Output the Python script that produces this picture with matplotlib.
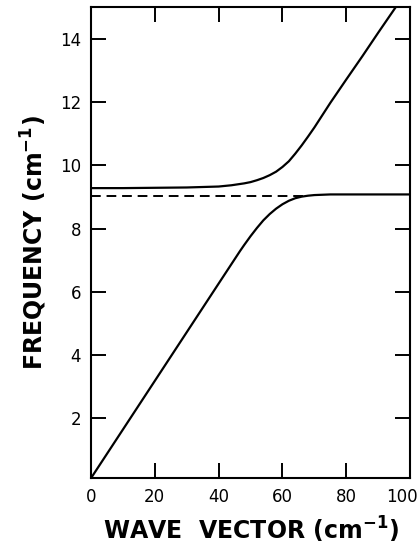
import matplotlib
matplotlib.use("Agg")
import matplotlib.pyplot as plt
import matplotlib.transforms as mtransforms

# Upper polariton branch (wave vector, frequency)
upper_k = [0, 10, 20, 30, 40, 44, 48, 50, 52, 54, 56, 58, 60, 62, 64, 66, 68, 70, 75, 80, 85, 90, 95.3]
upper_w = [9.28, 9.28, 9.29, 9.30, 9.33, 9.37, 9.43, 9.47, 9.53, 9.60, 9.69, 9.80, 9.95, 10.13, 10.37,
           10.63, 10.91, 11.2, 11.98, 12.72, 13.45, 14.2, 14.98]

# Lower polariton branch
lower_k = [0, 10, 20, 30, 40, 46.7, 48, 50, 52, 54, 56, 58, 60, 62, 64, 66, 68, 70, 75, 100]
lower_w = [0.1, 1.64, 3.18, 4.72, 6.26, 7.29, 7.48, 7.76, 8.02, 8.26, 8.46, 8.63, 8.77, 8.88, 8.96,
           9.01, 9.04, 9.06, 9.08, 9.08]

# Dashed reference level
dash_k = [0, 68]
dash_w = [9.02, 9.02]

xticks = [0, 20, 40, 60, 80, 100]
yticks = [2, 4, 6, 8, 10, 12, 14]

fig = plt.figure(figsize=(4.19, 5.45), dpi=100)
ax = fig.add_axes([0.217, 0.1224, 0.762, 0.8642])

ax.plot(upper_k, upper_w, color="black", lw=1.6, solid_joinstyle="round")
ax.plot(lower_k, lower_w, color="black", lw=1.6, solid_joinstyle="round")
ax.plot(dash_k, dash_w, color="black", lw=1.4, dashes=(5, 3))

ax.set_xlim(0, 100)
ax.set_ylim(0.1, 15)
ax.set_xticks(xticks)
ax.set_yticks(yticks)
ax.set_xticklabels([str(v) for v in xticks])
ax.set_yticklabels([str(v) for v in yticks])

ax.tick_params(direction="in", length=11, width=1.4, top=True, right=True,
               labelsize=12, pad=7)
for s in ax.spines.values():
    s.set_linewidth(1.5)

# keep the last x tick label inside the figure
lbl = ax.get_xticklabels()[-1]
lbl.set_transform(lbl.get_transform() + mtransforms.ScaledTranslation(-8 / 100, 0, fig.dpi_scale_trans))

ax.set_xlabel("WAVE  VECTOR (cm$^{\\mathbf{-1}}$)", fontsize=17, fontweight="bold", labelpad=6)
ax.set_ylabel("FREQUENCY (cm$^{\\mathbf{-1}}$)", fontsize=17, fontweight="bold", labelpad=8)

fig.savefig("out.png", dpi=100)
